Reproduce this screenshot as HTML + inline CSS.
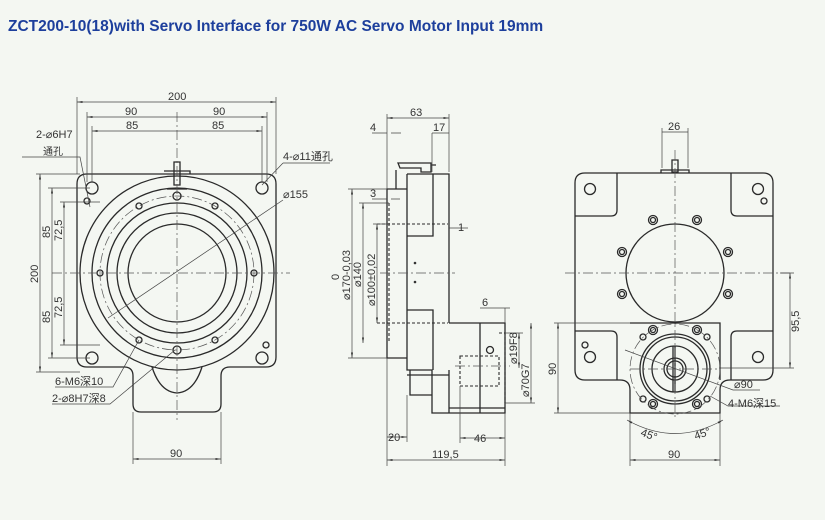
<!DOCTYPE html>
<html><head><meta charset="utf-8"><style>
html,body{margin:0;padding:0;background:#f4f7f2;}
svg{display:block}
text{font-family:"Liberation Sans","Noto Sans CJK SC",sans-serif;fill:#333;font-size:11px}
.m{fill:none;stroke:#2a2a2a;stroke-width:1.3}
.d{fill:none;stroke:#444;stroke-width:0.7}
.c{fill:none;stroke:#555;stroke-width:0.7;stroke-dasharray:10 3 2 3}
.h{fill:none;stroke:#2a2a2a;stroke-width:1.1;stroke-dasharray:3 2}
</style></head><body>
<svg width="825" height="520" viewBox="0 0 825 520" xmlns="http://www.w3.org/2000/svg">
<defs><marker id="a" markerWidth="8" markerHeight="6" refX="8" refY="3" orient="auto-start-reverse"><path d="M0,1.5 L8,3 L0,4.5z" fill="#333"/></marker></defs>
<text x="8" y="31" style="font-size:15.5px;font-weight:bold;fill:#1d3f9c">ZCT200-10(18)with Servo Interface for 750W AC Servo Motor Input 19mm</text>

<!-- LEFT VIEW -->
<path class="m" d="M87,174 H266 Q276,174 276,184 V357 Q276,367 266,367 H230 Q221,367 221,376 V404 Q221,412 213,412 H141 Q133,412 133,404 V376 Q133,367 124,367 H87 Q77,367 77,357 V184 Q77,174 87,174Z"/>
<path class="m" d="M152,367 Q160,392 177,393 Q194,392 202,367"/>
<g class="m"><circle cx="177" cy="273" r="97"/><circle cx="177" cy="273" r="85"/><circle cx="177" cy="273" r="70"/><circle cx="177" cy="273" r="60"/><circle cx="177" cy="273" r="49"/></g>
<circle class="c" cx="177" cy="273" r="77"/>
<g class="m"><circle cx="92" cy="188" r="6"/><circle cx="262" cy="188" r="6"/><circle cx="92" cy="358" r="6"/><circle cx="262" cy="358" r="6"/>
<circle cx="177" cy="196" r="4"/><circle cx="177" cy="350" r="4"/><circle cx="100" cy="273" r="3"/><circle cx="254" cy="273" r="3"/><circle cx="139" cy="206" r="3"/><circle cx="215" cy="206" r="3"/><circle cx="139" cy="340" r="3"/><circle cx="215" cy="340" r="3"/><circle cx="87" cy="201" r="3"/><circle cx="266" cy="345" r="3"/></g>
<path class="m" d="M164,171 H190 V174 M167,189 H187 M174,162 H180 V185 H174Z"/>
<path class="c" d="M177,112 V420 M52,273 H290"/>
<g class="d" marker-start="url(#a)" marker-end="url(#a)"><path d="M77,102 H276"/><path d="M87,117 H267"/><path d="M92,131 H262"/><path d="M40,174 V372"/><path d="M52,188 V358"/><path d="M64,202 V345"/><path d="M133,459 H221"/></g>
<g class="d"><path d="M77,97 V174 M276,97 V174 M87,112 V182 M267,112 V182 M92,126 V182 M262,126 V182 M36,174 H80 M36,372 H80 M48,188 H90 M48,358 H90 M60,202 H100 M60,345 H100 M133,412 V464 M221,412 V464 M22,157 H80 L90,207 M283,163 L262,185 M283,163 H330 M283,200 L108,318 M55,387 H113 L139,340 M52,404 H110 L175,350"/></g>
<text x="168" y="100">200</text><text x="125" y="115">90</text><text x="213" y="115">90</text><text x="126" y="129">85</text><text x="212" y="129">85</text>
<text x="36" y="138">2-⌀6H7</text><text x="43" y="155" style="font-size:10px">通孔</text>
<text x="283" y="160">4-⌀11通孔</text><text x="283" y="198">⌀155</text>
<text x="55" y="385">6-M6深10</text><text x="52" y="402">2-⌀8H7深8</text><text x="170" y="457">90</text>
<text transform="translate(38,283) rotate(-90)">200</text><text transform="translate(50,238) rotate(-90)">85</text><text transform="translate(62,241) rotate(-90)">72,5</text>
<text transform="translate(50,323) rotate(-90)">85</text><text transform="translate(62,318) rotate(-90)">72,5</text>

<!-- MIDDLE VIEW -->
<path class="m" d="M387,189 H407 V358 H387Z M407,174 H449 V323 M407,174 V370 H432 V413 H449 V370 M410,370 V395 H432 M407,236 H433 V174 M407,310 H433 V370 M407,375 H449 M449,323 H505 V413 H432 M480,323 V413 M449,408 H505"/>
<path class="m" d="M398,163 L400,168 H421 V172 H431 V163 H400 Z M396,170 V189 M431,165 H436"/>
<path class="h" d="M389,203 V343 M377,224 H448 M377,323 H448 M460,356 H499 V386 H460Z M499,333 H505 V403"/>
<circle class="m" cx="490" cy="350" r="3.5"/>
<circle cx="415" cy="263" r="1.3" fill="#333"/><circle cx="415" cy="282" r="1.3" fill="#333"/>
<path class="c" d="M380,273 H455 M455,366 H510"/>
<g class="d" marker-start="url(#a)" marker-end="url(#a)"><path d="M387,118 H449"/><path d="M352,189 V358"/><path d="M363,203 V343"/><path d="M377,224 V323"/><path d="M387,460 H505"/><path d="M387,437 H407"/><path d="M460,438 H505"/><path d="M519,333 V368"/><path d="M531,323 V403"/></g>
<g class="d"><path d="M387,114 V189 M449,114 V172 M372,133 H387 M391,133 H401 M432,133 H449 M432,133 V172 M372,199 H387 M391,199 H400 M480,308 H510 M505,308 V323 M348,189 H387 M348,358 H387 M359,203 H389 M373,224 H389 M387,358 V466 M407,395 V442 M460,386 V443 M505,413 V466 M449,228 H468 M505,333 H523 M505,403 H535"/></g>
<text x="410" y="116">63</text><text x="370" y="131">4</text><text x="433" y="131">17</text><text x="370" y="197">3</text><text x="458" y="231">1</text><text x="482" y="306">6</text>
<text x="388" y="441">20</text><text x="474" y="442">46</text><text x="432" y="458">119,5</text>
<text transform="translate(339,280) rotate(-90)">0</text><text transform="translate(350,300) rotate(-90)">⌀170-0,03</text><text transform="translate(361,287) rotate(-90)">⌀140</text><text transform="translate(375,306) rotate(-90)">⌀100±0,02</text>
<text transform="translate(517,364) rotate(-90)">⌀19F8</text><text transform="translate(529,397) rotate(-90)">⌀70G7</text>

<!-- RIGHT VIEW -->
<path class="m" d="M585,173 H763 Q773,173 773,183 V370 Q773,380 763,380 H730 Q720,380 720,390 V413 H630 V390 Q630,380 620,380 H585 Q575,380 575,370 V183 Q575,173 585,173Z"/>
<path class="m" d="M575,216 H611 Q617,216 617,210 V173 M773,216 H737 Q731,216 731,210 V173 M575,331 H611 Q617,331 617,337 V380 M773,331 H737 Q731,331 731,337 V380 M630,323 H720 V380"/>
<path class="m" d="M661,173 V170 H689 V173 M672,160 H678 V172 H672Z"/>
<g class="m"><circle cx="590" cy="189" r="5.5"/><circle cx="758" cy="189" r="5.5"/><circle cx="764" cy="201" r="3"/><circle cx="590" cy="357" r="5.5"/><circle cx="758" cy="357" r="5.5"/><circle cx="585" cy="345" r="3"/>
<circle cx="675" cy="273" r="49"/>
<circle cx="653" cy="220" r="4.5"/><circle cx="653" cy="220" r="2.5"/><circle cx="697" cy="220" r="4.5"/><circle cx="697" cy="220" r="2.5"/><circle cx="622" cy="252" r="4.5"/><circle cx="622" cy="252" r="2.5"/><circle cx="728" cy="252" r="4.5"/><circle cx="728" cy="252" r="2.5"/><circle cx="622" cy="294" r="4.5"/><circle cx="622" cy="294" r="2.5"/><circle cx="728" cy="294" r="4.5"/><circle cx="728" cy="294" r="2.5"/>
<circle cx="653" cy="330" r="4.5"/><circle cx="653" cy="330" r="2.5"/><circle cx="697" cy="330" r="4.5"/><circle cx="697" cy="330" r="2.5"/><circle cx="653" cy="404" r="4.5"/><circle cx="653" cy="404" r="2.5"/><circle cx="697" cy="404" r="4.5"/><circle cx="697" cy="404" r="2.5"/>
<circle cx="643" cy="337" r="3"/><circle cx="707" cy="337" r="3"/><circle cx="643" cy="399" r="3"/><circle cx="707" cy="399" r="3"/>
<circle cx="675" cy="369" r="35"/><circle cx="675" cy="369" r="32"/><circle cx="675" cy="369" r="23"/><circle cx="675" cy="369" r="11"/><circle cx="675" cy="369" r="8"/></g>
<path class="m" d="M675,346 V392 M673,346 V392"/>
<circle class="c" cx="675" cy="369" r="45"/>
<path class="c" d="M675,150 V420 M565,273 H790 M630,369 H720"/>
<g class="d" marker-start="url(#a)" marker-end="url(#a)"><path d="M790,273 V368"/><path d="M558,323 V413"/><path d="M630,460 H720"/><path d="M627,420 Q675,447 723,420"/></g>
<g class="d"><path d="M662,132 H688 M662,128 V168 M688,128 V168 M780,273 H794 M720,368 H794 M554,323 H630 M554,413 H630 M630,413 V466 M720,413 V466 M625,350 L733,390 H760 M710,396 L728,406 H780"/></g>
<text x="668" y="130">26</text><text transform="translate(799,332) rotate(-90)">95,5</text><text transform="translate(556,375) rotate(-90)">90</text>
<text x="734" y="388">⌀90</text><text x="728" y="407">4-M6深15</text>
<text x="641" y="438" transform="rotate(20 648 434)">45°</text><text x="694" y="438" transform="rotate(-20 700 434)">45°</text>
<text x="668" y="458">90</text>
</svg>
</body></html>
